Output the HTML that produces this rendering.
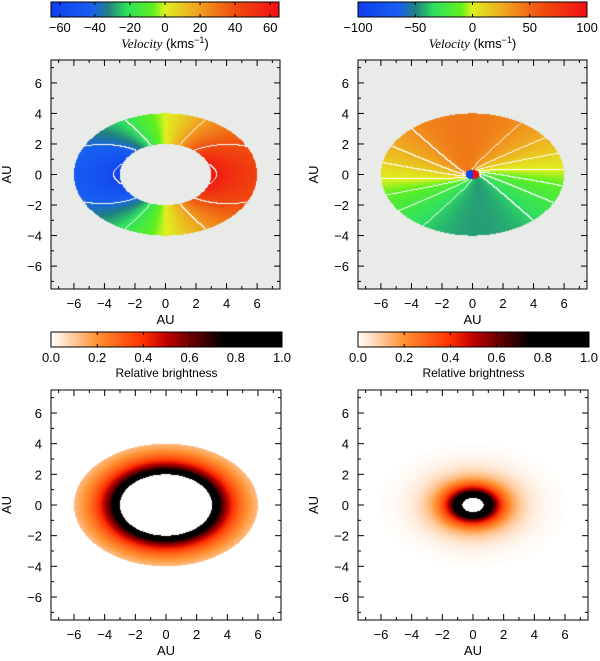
<!DOCTYPE html>
<html><head><meta charset="utf-8"><style>
html,body{margin:0;padding:0;background:#fff}
#wrap{position:relative;width:600px;height:661px;overflow:hidden}
canvas,svg{position:absolute;left:0;top:0}
text{font-family:"Liberation Sans",sans-serif;fill:#000}
</style></head><body>
<div id="wrap">
<canvas id="cv" width="600" height="661"></canvas>
<svg id="sv" width="600" height="661"></svg>
</div>
<script>
// data
const axisTicks = [-6,-4,-2,0,2,4,6];
const minorTicks = [-7,-5,-3,-1,1,3,5,7];
const velTicksA = [-60,-40,-20,0,20,40,60];
const velTicksB = [-100,-50,0,50,100];
const brTicks = [0.0,0.2,0.4,0.6,0.8,1.0];
const diskOuter = [6,4];
const diskInnerA = [3,2];
const diskInnerB = [0.7,0.45];
const velAmpA = [110];
const velAmpB = [45];
const brScaleA = [1.05, 1.4];
const brScaleB = [1.4, 0.9];

const panels = [
 {name:'velocity-map-a', x:51, y:60, s:229, cb:{x:51,y:2,w:228,h:15}, kind:'velA'},
 {name:'velocity-map-b', x:358, y:60, s:229, cb:{x:358,y:2,w:229,h:15}, kind:'velB'},
 {name:'brightness-map-a', x:51, y:390, s:230, cb:{x:51,y:332,w:231,h:15}, kind:'brA'},
 {name:'brightness-map-b', x:358, y:390, s:230, cb:{x:358,y:332,w:231,h:15}, kind:'brB'}
];
const R = 7.5;

function lerpMap(stops, t){
 t=Math.max(0,Math.min(1,t));
 for(let i=1;i<stops.length;i++){ if(t<=stops[i][0]){const a=stops[i-1],b=stops[i];const f=(t-a[0])/(b[0]-a[0]||1);
  return [0,1,2].map(k=>Math.round(a[1][k]+(b[1][k]-a[1][k])*f));}}
 return stops[stops.length-1][1];
}
const velStops=[[0,[16,64,240]],[0.18,[24,96,240]],[0.25,[32,128,128]],[0.33,[48,224,96]],[0.45,[96,240,32]],[0.5,[224,240,32]],[0.65,[240,160,32]],[0.8,[240,80,16]],[1,[240,16,16]]];
const brStops=[[0,[255,255,255]],[0.2,[255,144,48]],[0.4,[255,48,0]],[0.5,[192,0,0]],[0.6,[112,0,0]],[0.75,[0,0,0]],[1,[0,0,0]]];

function field(kind,X,Y){
 const rr = Math.sqrt(X*X + Math.pow(Y*diskOuter[0]/diskOuter[1],2));
 if(rr>diskOuter[0]) return null;
 if(kind==='velA'){ if(rr<diskInnerA[0]) return null; return velAmpA[0]*(X/rr)/Math.sqrt(rr); }
 if(kind==='velB'){ if(rr<0.45){return X>0?100:-100;}
   const phi=Math.atan2(Y*1.5,X) - 0.5/(rr+0.3);
   return velAmpB[0]*Math.sin(phi); }
 if(kind==='brA'){ if(rr<diskInnerA[0]) return null; return brScaleA[0]*Math.exp(-(rr-diskInnerA[0])/brScaleA[1]); }
 if(kind==='brB'){ if(rr<diskInnerB[0]) return null; return Math.min(1,brScaleB[0]*Math.exp(-(rr-diskInnerB[0])/brScaleB[1])); }
}
const cv=document.getElementById('cv'),ctx=cv.getContext('2d');
const img=ctx.createImageData(600,661);
for(let i=0;i<img.data.length;i+=4){img.data[i]=img.data[i+1]=img.data[i+2]=img.data[i+3]=255;}
function put(x,y,c){const i=(y*600+x)*4;img.data[i]=c[0];img.data[i+1]=c[1];img.data[i+2]=c[2];img.data[i+3]=255;}
panels.forEach(p=>{
 const vel=p.kind.startsWith('vel'); const vmax=p.kind==='velA'?65:100; const step=p.kind==='velA'?20:12;
 for(let py=0;py<p.s;py++)for(let px=0;px<p.s;px++){
  const X=-R+2*R*(px+0.5)/p.s, Y=R-2*R*(py+0.5)/p.s;
  const v=field(p.kind,X,Y); let c;
  if(v===null){c=vel?[232,235,232]:[255,255,255];}
  else if(vel){
   c=lerpMap(velStops,(v+vmax)/(2*vmax));
   if(Math.abs(v)<95){
    const d=2*R/p.s; const v2=field(p.kind,X+d,Y), v3=field(p.kind,X,Y-d);
    const b=Math.floor(v/step);
    if((v2!==null&&Math.abs(v2)<95&&Math.floor(v2/step)!==b)||(v3!==null&&Math.abs(v3)<95&&Math.floor(v3/step)!==b)) c=[255,255,255];
   }
  } else c=lerpMap(brStops,v);
  put(p.x+px,p.y+py,c);
 }
 const cb=p.cb;
 for(let x=0;x<cb.w;x++){const t=x/(cb.w-1);const c=vel?lerpMap(velStops,t):lerpMap(brStops,t);
  for(let y=0;y<cb.h;y++)put(cb.x+x,cb.y+y,c);}
});
ctx.putImageData(img,0,0);

const NS='http://www.w3.org/2000/svg', sv=document.getElementById('sv');
function el(tag,attrs,parent,txt){const e=document.createElementNS(NS,tag);for(const k in attrs)e.setAttribute(k,attrs[k]);if(txt!==undefined)e.textContent=txt;(parent||sv).appendChild(e);return e;}
panels.forEach(p=>{
 const g=el('g',{});
 
 
 const sx=v=>p.x+(v+R)/(2*R)*p.s, sy=v=>p.y+p.s-(v+R)/(2*R)*p.s;
 const fr=el('rect',{x:p.x,y:p.y,width:p.s,height:p.s,fill:'none',stroke:'#000','stroke-width':1},g);
 
 
 const tk=(v,len)=>{
  el('line',{x1:sx(v),x2:sx(v),y1:p.y+p.s,y2:p.y+p.s-len,stroke:'#000'},g);
  el('line',{x1:sx(v),x2:sx(v),y1:p.y,y2:p.y+len,stroke:'#000'},g);
  el('line',{y1:sy(v),y2:sy(v),x1:p.x,x2:p.x+len,stroke:'#000'},g);
  el('line',{y1:sy(v),y2:sy(v),x1:p.x+p.s,x2:p.x+p.s-len,stroke:'#000'},g);
 };
 axisTicks.forEach(v=>tk(v,6)); minorTicks.forEach(v=>tk(v,3));
 axisTicks.forEach(v=>{
  const t1=el('text',{x:sx(v),y:p.y+p.s+19,'text-anchor':'middle','font-size':13},g,(v<0?'\u2212':'')+Math.abs(v));
  
  
  const t2=el('text',{x:p.x-9,y:sy(v)+5,'text-anchor':'end','font-size':13},g,(v<0?'\u2212':'')+Math.abs(v));
  
  
 });
 const xt=el('text',{x:p.x+p.s/2,y:p.y+p.s+35,'text-anchor':'middle','font-size':13},g,'AU');
 
 
 const yx=p.x-40, yy=p.y+p.s/2;
 const yt=el('text',{x:yx,y:yy,'text-anchor':'middle','font-size':13,transform:`rotate(-90 ${yx} ${yy})`},g,'AU');
 
 
 const cb=p.cb, vel=p.kind.startsWith('vel');
 const cbr=el('rect',{x:cb.x,y:cb.y,width:cb.w,height:cb.h,fill:'none',stroke:'#000'},g);
 
 
 const ticks=p.kind==='velA'?velTicksA:(p.kind==='velB'?velTicksB:brTicks);
 const lo=p.kind==='velA'?-65:(p.kind==='velB'?-100:0), hi=p.kind==='velA'?65:(p.kind==='velB'?100:1);
 ticks.forEach(v=>{
  const x=cb.x+(v-lo)/(hi-lo)*cb.w;
  el('line',{x1:x,x2:x,y1:cb.y+cb.h,y2:cb.y+cb.h-3,stroke:'#000'},g);
  el('line',{x1:x,x2:x,y1:cb.y,y2:cb.y+3,stroke:'#000'},g);
  const lab=vel?((v<0?'\u2212':'')+Math.abs(v)):v.toFixed(1);
  const t=el('text',{x:x,y:cb.y+cb.h+15,'text-anchor':'middle','font-size':13},g,lab);
  
  
 });
 let ct;
 if(vel){
  ct=el('text',{x:cb.x+cb.w/2,y:cb.y+cb.h+31,'text-anchor':'middle','font-size':13},g);
  el('tspan',{'font-style':'italic','font-family':'Liberation Serif, serif'},ct,'Velocity');
  el('tspan',{},ct,' (kms');
  el('tspan',{'font-size':9,dy:-5},ct,'\u22121');
  el('tspan',{dy:5},ct,')');
 } else ct=el('text',{x:cb.x+cb.w/2,y:cb.y+cb.h+30,'text-anchor':'middle','font-size':12},g,'Relative brightness');
 
 
});
</script>
</body></html>
